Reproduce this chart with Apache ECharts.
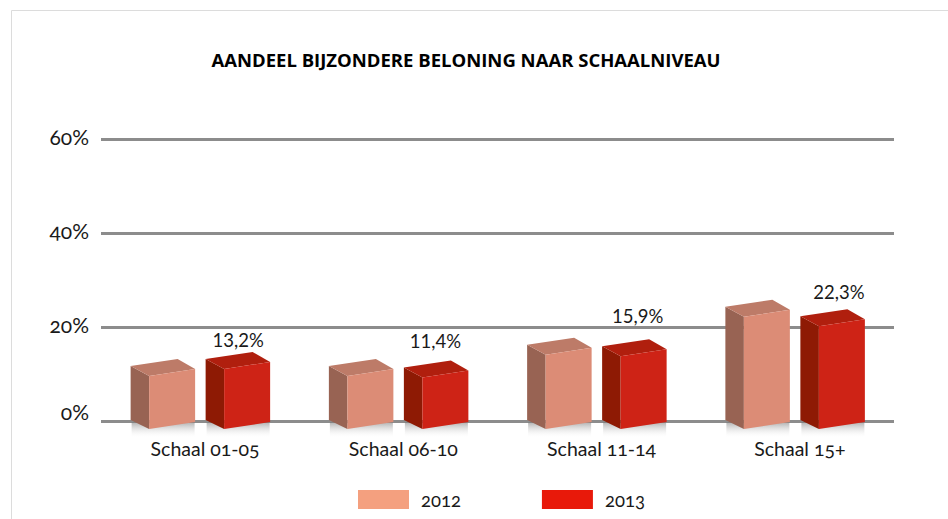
<!DOCTYPE html>
<html>
<head>
<meta charset="UTF-8">
<title>Aandeel bijzondere beloning</title>
<script type="text/javascript" src="https://cdn.jsdelivr.net/npm/echarts@6/dist/echarts.min.js"></script>
<style>
	html,body{margin:0;padding:0;background:#fff;}
	#box text{font-variant-numeric:oldstyle-nums;font-feature-settings:"onum" 1;}
</style>
</head>
<body>
	<div id="box" style="width:948px;height:519px;"></div>
	<script type="text/javascript">
		var categories = ['Schaal 01-05','Schaal 06-10','Schaal 11-14','Schaal 15+'];
		var values2012 = [11.7,11.7,16.2,24.3];
		var values2013 = [13.2,11.4,15.9,22.3];
		var yTicks = [0,20,40,60];
		var fontName = 'Lato';

		// hand placed value labels of the 2013 bars: [dx from bar, dy from bar top]
		var labelShift = [[32.5,-19],[31.5,-26],[35.5,-30],[38.5,-24]];

		function bar3d(offset,colors,showLabel){
			return function(params,api){
				var i = api.value(0);
				var top = api.coord([i,api.value(1)]);
				var base = api.coord([i,0]);
				var x = top[0]+offset, y = top[1], y0 = base[1];
				var kids = [
					{type:'polygon',shape:{points:[[x+1,y0+1],[x+64,y0+1],[x+64,y0+17],[x+1,y0+17]]},
						style:{fill:new echarts.graphic.LinearGradient(0,0,0,1,[{offset:0,color:'rgba(120,120,120,0.6)'},{offset:1,color:'rgba(255,255,255,0)'}])}},
					{type:'polygon',shape:{points:[[x,y],[x+18.5,y+10],[x+18.5,y0+8],[x,y0-1]]},style:{fill:colors[0]}},
					{type:'polygon',shape:{points:[[x,y],[x+47,y-7],[x+64.5,y+3],[x+18.5,y+10]]},style:{fill:colors[1]}},
					{type:'polygon',shape:{points:[[x+18.5,y+10],[x+64.5,y+3],[x+64.5,y0+1],[x+18.5,y0+8]]},style:{fill:colors[2]}}
				];
				if(showLabel){
					var s = labelShift[i];
					kids.push({type:'text',style:{
						x:x+s[0],y:y+s[1],
						text:api.value(1).toFixed(1).replace('.',',')+'%',
						align:'center',verticalAlign:'middle',
						fill:'#1a1a1a',font:'18.5px '+fontName
					}});
				}
				return {type:'group',children:kids};
			};
		}

		var mychart = echarts.init(document.getElementById('box'),null,{renderer:'svg'});
		var option = {
			animation:false,
			backgroundColor:'#fff',
			title:{
				text:'AANDEEL BIJZONDERE BELONING NAAR SCHAALNIVEAU',
				left:461,top:45,textAlign:'center',
				textStyle:{fontFamily:'Open Sans',fontSize:18.5,fontWeight:'bold',color:'#000'}
			},
			legend:{
				left:358,top:490,padding:0,
				itemWidth:51,itemHeight:19,itemGap:78,
				icon:'rect',
				textStyle:{fontFamily:fontName,fontSize:18.5,color:'#1a1a1a',padding:[0,0,1,7]},
				data:['2012','2013']
			},
			grid:{left:101,right:54,top:139,height:282},
			graphic:[
				{type:'polyline',silent:true,shape:{points:[[11.5,519],[11.5,10.5],[948,10.5]]},style:{fill:null,stroke:'#dcdcdc',lineWidth:1}}
			],
			xAxis:{
				type:'category',
				data:categories,
				axisLine:{show:false},
				axisTick:{show:false},
				axisLabel:{margin:17,padding:[0,0,0,10],fontFamily:fontName,fontSize:19.5,color:'#1a1a1a'}
			},
			yAxis:{
				type:'value',min:yTicks[0],max:yTicks[3],interval:20,
				axisLine:{show:false},
				axisTick:{show:false},
				axisLabel:{
					margin:12,fontFamily:fontName,fontSize:21,color:'#1a1a1a',
					formatter:function(v){return v===0?'{low|0%}':'{std|'+v+'%}';},
					rich:{
						low:{fontFamily:fontName,fontSize:21,color:'#1a1a1a',padding:[0,0,20,0]},
						std:{fontFamily:fontName,fontSize:21,color:'#1a1a1a',padding:[0,0,5,0]}
					}
				},
				splitLine:{lineStyle:{color:'#8c8c8c',width:3}}
			},
			series:[{
				name:'2012',type:'custom',
				itemStyle:{color:'#f4a07f'},
				encode:{x:0,y:1},
				data:values2012.map(function(v,i){return [i,v];}),
				renderItem:bar3d(-69.5,['#986353','#bd7b68','#dc8c76'],false)
			},{
				name:'2013',type:'custom',
				itemStyle:{color:'#e8190a'},
				encode:{x:0,y:1},
				data:values2013.map(function(v,i){return [i,v];}),
				renderItem:bar3d(5.5,['#8e1a04','#b01f0e','#ce2316'],true)
			}]
		};
		mychart.setOption(option);
	</script>
</body>
</html>
